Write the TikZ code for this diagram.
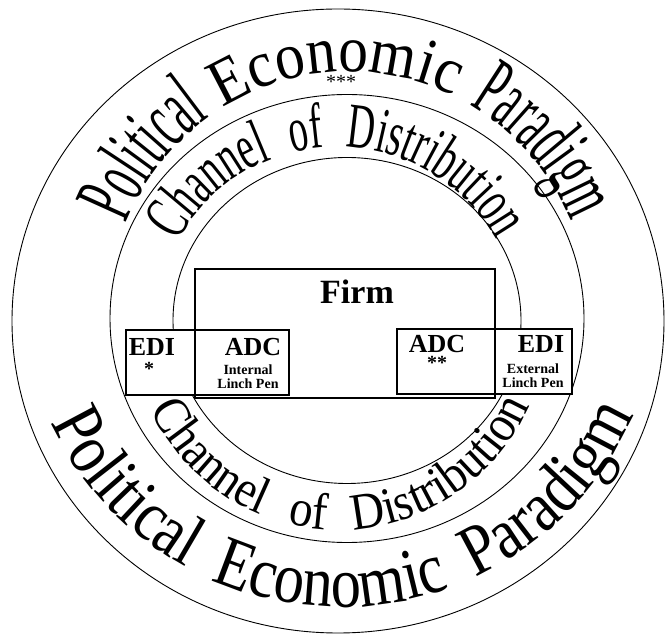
\documentclass[tikz,border=0pt]{standalone}
\usepackage{fontspec}
\setmainfont{Liberation Serif}
\newfontfamily\archfont[FakeStretch=0.9]{Liberation Serif}
\newfontfamily\lowfont[FakeStretch=0.84]{Liberation Serif}
\newfontfamily\narrowfont[FakeStretch=0.49]{Liberation Serif}
\newfontfamily\slimfont[FakeStretch=0.6]{Liberation Serif}
\usetikzlibrary{positioning, decorations.text}

\begin{document}
\begin{tikzpicture}[
        x=1pt, y=1pt,
        ring/.style={line width=0.9pt},
        box/.style={rectangle, draw, line width=1.1pt, fill=white, inner sep=0pt, outer sep=0pt},
        tag/.style={inner sep=0pt, font=\bfseries\fontsize{26}{26}\selectfont},
        note/.style={inner sep=0pt, font=\bfseries\fontsize{14}{14}\selectfont},
        stars/.style={inner sep=0pt, font=\bfseries\fontsize{20}{20}\selectfont}
    ]

    \tikzset{
    arch/.style={decorate, decoration={text along path, text align=center, text={#1}}},
    fitarch/.style={decorate, decoration={text along path, text align={fit to path stretching spaces}, text={#1}}}
}

    \useasboundingbox (0,0) rectangle (666,637);

    \draw[ring] (338,316) ellipse [x radius=326, y radius=312];
    \draw[ring] (347,318.5) ellipse [x radius=237, y radius=224];
    \draw[ring] (347,316.5) ellipse [x radius=174, y radius=163];

    % upper band, one word per arc
    \path[arch={|\narrowfont\fontsize{84}{84}\selectfont|Political}]
        ([shift={(167:240)}]349,325) arc[start angle=167, end angle=117, radius=240];
    \path[arch={|\archfont\fontsize{66}{66}\selectfont|Economic}]
        ([shift={(128:240)}]349,325) arc[start angle=128, end angle=58, radius=240];
    \path[arch={|\narrowfont\fontsize{84}{84}\selectfont|Paradigm}]
        ([shift={(66:240)}]349,325) arc[start angle=66, end angle=16, radius=240];
    \path[fitarch={|\slimfont\fontsize{64}{64}\selectfont|Channel of Distribution}]
        ([shift={(151:183)}]337.5,307) arc[start angle=151, end angle=29.4, radius=183];

    % lower band, read the other way round
    \path[fitarch={|\lowfont\fontsize{72}{72}\selectfont|Political Economic Paradigm}]
        ([shift={(205:320)}]340.5,350) arc[start angle=205, end angle=336.5, radius=320];
    \path[fitarch={|\archfont\fontsize{52}{52}\selectfont|Channel of Distribution}]
        ([shift={(204.8:208)}]339,315) arc[start angle=204.8, end angle=336.4, radius=208];

    \node[font=\fontsize{20}{20}\selectfont, inner sep=0pt] (top) at (341,555) {***};

    \node[box, minimum width=300pt, minimum height=129pt] (Firm) at (345,303.5) {};
    \node[box, minimum width=69pt, minimum height=65pt] (EDIin) at (160.5,274.5) {};
    \node[box, minimum width=94pt, minimum height=65pt, right=0pt of EDIin] (ADCin) {};
    \node[box, minimum width=98pt, minimum height=65pt] (ADCout) at (446,275.5) {};
    \node[box, minimum width=77pt, minimum height=65pt, right=0pt of ADCout] (EDIout) {};

    \node[font=\bfseries\fontsize{34}{34}\selectfont, inner sep=0pt] (FirmT) at (357,345) {Firm};
    \node[tag] (EDIinT) at (152,290) {EDI};
    \node[stars] (starA) at (149,268) {*};
    \node[tag] (ADCinT) at (253,290) {ADC};
    \node[note] (intT) at (248,267) {Internal};
    \node[note, below=3.5pt of intT] (penA) {Linch Pen};
    \node[tag] (ADCoutT) at (437,293) {ADC};
    \node[stars] (starB) at (437,274) {**};
    \node[tag] (EDIoutT) at (541,293) {EDI};
    \node[note] (extT) at (533,268) {External};
    \node[note, below=3.5pt of extT] (penB) {Linch Pen};
\end{tikzpicture}
\end{document}
